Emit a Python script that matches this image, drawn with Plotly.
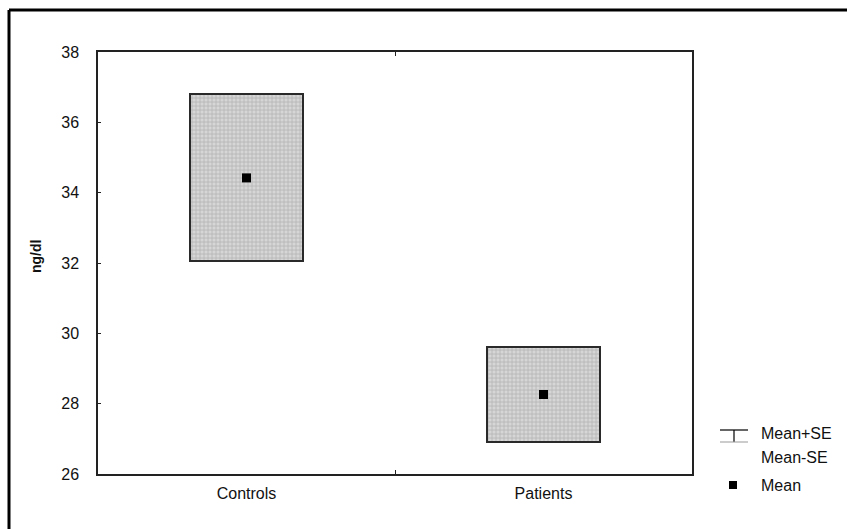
import plotly.graph_objects as go

categories = ["Controls", "Patients"]
means = [34.42, 28.26]
mean_plus_se = [36.81, 29.62]
mean_minus_se = [32.06, 26.90]
y_ticks = [26, 28, 30, 32, 34, 36, 38]

FONT = "Liberation Sans, Arial, sans-serif"

W_FIG, H_FIG = 847, 529
L = 98; R = 692; T = 52; B = 474
W = R - L; H = B - T
def px(x): return (x - L) / W
def py(y): return (B - y) / H

fig = go.Figure()
fig.add_trace(go.Bar(
    x=categories,
    base=mean_minus_se,
    y=[hi - lo for hi, lo in zip(mean_plus_se, mean_minus_se)],
    width=0.38,
    marker=dict(
        color="#cccccc",
        line=dict(color="#2a2a2a", width=2),
        pattern=dict(shape="+", size=4, fgcolor="#8e8e8e", bgcolor="#d6d6d6", solidity=0.35),
    ),
    showlegend=False,
    hoverinfo="skip",
))
fig.add_trace(go.Scatter(
    x=categories, y=means, mode="markers",
    marker=dict(symbol="square", size=9, color="black"),
    showlegend=False,
))

shapes = []
# whisker icon
shapes.append(dict(type="line", xref="paper", yref="paper", x0=px(720), x1=px(748), y0=py(430), y1=py(430), line=dict(color="black", width=1.2)))
shapes.append(dict(type="line", xref="paper", yref="paper", x0=px(734), x1=px(734), y0=py(430), y1=py(442), line=dict(color="black", width=1.2)))
shapes.append(dict(type="line", xref="paper", yref="paper", x0=px(720), x1=px(748), y0=py(442), y1=py(442), line=dict(color="#999999", width=1)))
# mean icon
shapes.append(dict(type="rect", xref="paper", yref="paper", x0=px(729), x1=px(737), y0=py(481), y1=py(489), fillcolor="black", line=dict(width=0)))
# outer frame (top and left visible)
shapes.append(dict(type="line", xref="paper", yref="paper", x0=px(9), x1=px(870), y0=py(10), y1=py(10), line=dict(color="black", width=3)))
shapes.append(dict(type="line", xref="paper", yref="paper", x0=px(9), x1=px(9), y0=py(10), y1=py(550), line=dict(color="black", width=3)))

LF = dict(family=FONT, size=16, color="#111")
annotations = [
    dict(text="Mean+SE", xref="paper", yref="paper", x=px(759), y=py(433), xanchor="left", yanchor="middle", showarrow=False, font=LF),
    dict(text="Mean-SE", xref="paper", yref="paper", x=px(759), y=py(457), xanchor="left", yanchor="middle", showarrow=False, font=LF),
    dict(text="Mean", xref="paper", yref="paper", x=px(759), y=py(485), xanchor="left", yanchor="middle", showarrow=False, font=LF),
    dict(text="<b>ng/dl</b>", xref="paper", yref="paper", x=px(36), y=py(257), xanchor="center", yanchor="middle",
         textangle=-90, showarrow=False, font=dict(family=FONT, size=14, color="#111")),
]

fig.update_layout(
    width=W_FIG, height=H_FIG,
    margin=dict(l=L, r=W_FIG - R, t=T, b=H_FIG - B),
    paper_bgcolor="white", plot_bgcolor="white",
    bargap=0,
    shapes=shapes, annotations=annotations,
    font=dict(family=FONT, color="#111"),
)
fig.update_xaxes(
    type="category", range=[-0.5, 1.5],
    showline=True, linecolor="#222", linewidth=1.5, mirror="ticks",
    ticks="inside", ticklen=4, tickson="boundaries", tickcolor="#222",
    ticklabelstandoff=4,
    showgrid=False, tickfont=dict(size=16, family=FONT, color="#111"),
)
fig.update_yaxes(
    range=[26, 38], tickvals=y_ticks,
    showline=True, linecolor="#222", linewidth=1.5, mirror=True,
    ticks="inside", ticklen=3, tickcolor="#222",
    ticklabelstandoff=14,
    showgrid=False, zeroline=False, tickfont=dict(size=16, family=FONT, color="#111"),
)

fig.write_html("out.html", config={"displayModeBar": False},
               post_script="document.body.style.margin='0';document.body.style.overflow='hidden';")
